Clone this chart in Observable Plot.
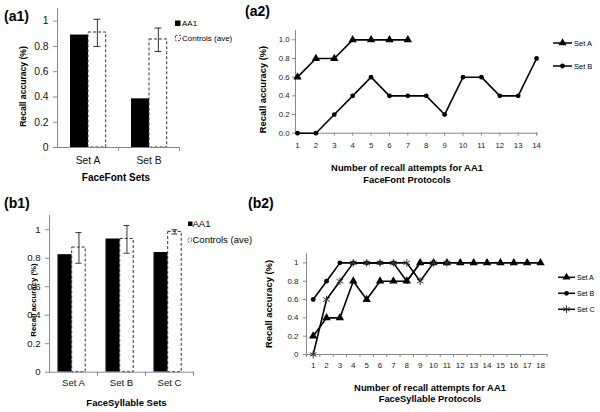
<!DOCTYPE html>
<html><head><meta charset="utf-8">
<script src="https://cdn.jsdelivr.net/npm/d3@7"></script>
<script src="https://cdn.jsdelivr.net/npm/@observablehq/plot@0.6"></script>
<style>
body{margin:0;background:#fff;}
#root{position:relative;width:600px;height:412px;overflow:hidden;background:#fff;}
</style></head><body><div id="root"></div>
<script>
// ---------- data ----------
const a1Sets = ["Set A", "Set B"];
const a1AA1 = [0.89, 0.385];
const a1Ctrl = [0.91, 0.855];
const a1CtrlLo = [0.80, 0.76];
const a1CtrlHi = [1.015, 0.945];

const b1Sets = ["Set A", "Set B", "Set C"];
const b1AA1 = [0.825, 0.935, 0.84];
const b1Ctrl = [0.875, 0.935, 0.985];
const b1CtrlLo = [0.765, 0.835, 0.97];
const b1CtrlHi = [0.98, 1.03, 1.0];

const a2SetA = [0.6, 0.8, 0.8, 1, 1, 1, 1];
const a2SetB = [0, 0, 0.2, 0.4, 0.6, 0.4, 0.4, 0.4, 0.2, 0.6, 0.6, 0.4, 0.4, 0.8];

const b2SetA = [0.2, 0.4, 0.4, 0.8, 0.6, 0.8, 0.8, 0.8, 1, 1, 1, 1, 1, 1, 1, 1, 1, 1];
const b2SetB = [0.6, 0.8, 1, 1, 1, 1, 1, 0.8, 1, 1];
const b2SetC = [0, 0.6, 0.8, 1, 1, 1, 1, 1, 0.8, 1, 1];

const yTicks = [0, 0.2, 0.4, 0.6, 0.8, 1];
const a2XTicks = [1,2,3,4,5,6,7,8,9,10,11,12,13,14];
const b2XTicks = [1,2,3,4,5,6,7,8,9,10,11,12,13,14,15,16,17,18];
const b2XTickMarks = b2XTicks.map(d => d - 0.5).concat([18.5]);

// ---------- helpers ----------
const FONT = '"Liberation Sans", Arial, Helvetica, sans-serif';
const root = document.getElementById("root");
function place(svg, left, top) {
  svg.style.position = "absolute";
  svg.style.left = left + "px";
  svg.style.top = top + "px";
  root.appendChild(svg);
}

function barPanel(o) {
  const rows = o.sets.map((s, i) => ({set: s, aa1: o.aa1[i], ctrl: o.ctrl[i], lo: o.lo[i], hi: o.hi[i]}));
  const bw = (o.width - o.mL - o.mR) / o.sets.length;
  const cc = o.ctrlL + (bw - o.ctrlR - o.ctrlL) / 2;
  return Plot.plot({
    width: o.width, height: o.height,
    marginLeft: o.mL, marginRight: o.mR, marginTop: o.mT, marginBottom: o.mB,
    style: {fontFamily: FONT, fontSize: o.fs + "px", background: "transparent", color: "#111", overflow: "visible"},
    x: {domain: o.sets, padding: 0, label: null},
    y: {domain: [0, 1.1], label: null},
    marks: [
      Plot.barY(rows, {x: "set", y: "aa1", fill: "#000", insetLeft: o.aaL, insetRight: o.aaR}),
      Plot.barY(rows, {x: "set", y: "ctrl", fill: "#fff", stroke: "#333", strokeWidth: 1, strokeDasharray: "3,2", insetLeft: o.ctrlL, insetRight: o.ctrlR}),
      Plot.ruleX(rows, {x: "set", y1: "lo", y2: "hi", dx: cc - bw / 2, stroke: "#333"}),
      Plot.tickY(rows, {x: "set", y: "lo", insetLeft: cc - o.cap, insetRight: bw - cc - o.cap, stroke: "#333"}),
      Plot.tickY(rows, {x: "set", y: "hi", insetLeft: cc - o.cap, insetRight: bw - cc - o.cap, stroke: "#333"}),
      Plot.frame({anchor: "left", stroke: "#888"}),
      Plot.frame({anchor: "bottom", stroke: "#888"}),
      Plot.axisY({ticks: yTicks, tickFormat: d3.format("~g"), tickSize: 4, tickPadding: o.yPad, label: null, stroke: "#888", color: "#111"}),
      Plot.axisX({tickSize: 0, tickPadding: o.xPad, label: null, color: "#111"}),
      Plot.axisX({tickSize: 4, dx: bw / 2, fill: "none", label: null, stroke: "#888"})
    ]
  });
}

function linePanel(o) {
  const marks = [
    Plot.frame({anchor: "left", stroke: "#888"}),
    Plot.frame({anchor: "bottom", stroke: "#888"}),
    Plot.axisY({ticks: yTicks, tickFormat: o.yFmt, tickSize: 3, tickPadding: o.yPad, label: null, stroke: "#888", color: "#222"}),
    Plot.axisX({ticks: o.xLabels, tickFormat: d3.format("d"), tickSize: 0, tickPadding: o.xPad, label: null, color: "#222"}),
    Plot.axisX({ticks: o.xMarks, tickSize: 3, fill: "none", label: null, stroke: "#888"})
  ];
  const all = o.series.map(s => s.values.map((v, i) => ({n: i + 1, v, name: s.name})));
  all.forEach(rows => marks.push(Plot.line(rows, {x: "n", y: "v", stroke: "#000", strokeWidth: 1.6})));
  o.series.forEach((s, k) => marks.push(Plot.dot(all[k], {x: "n", y: "v", symbol: s.symbol, r: s.r, fill: s.fill, stroke: s.stroke, strokeWidth: s.sw})));
  return Plot.plot({
    width: o.width, height: o.height,
    marginLeft: o.mL, marginRight: o.mR, marginTop: o.mT, marginBottom: o.mB,
    style: {fontFamily: FONT, fontSize: o.fs + "px", background: "transparent", color: "#222", overflow: "visible"},
    x: {domain: o.xDomain, label: null},
    y: {domain: [0, 1.1], label: null},
    marks
  });
}

// ---------- panels ----------
place(barPanel({sets: a1Sets, aa1: a1AA1, ctrl: a1Ctrl, lo: a1CtrlLo, hi: a1CtrlHi,
  width: 182, height: 190, mL: 57, mR: 3, mT: 8, mB: 43,
  aaL: 13, aaR: 30, ctrlL: 31, ctrlR: 12.3, cap: 3.5, fs: 10.3, yPad: 5, xPad: 9}), 0, 0);

place(barPanel({sets: b1Sets, aa1: b1AA1, ctrl: b1Ctrl, lo: b1CtrlLo, hi: b1CtrlHi,
  width: 196, height: 200, mL: 49, mR: 3, mT: 15, mB: 28.3,
  aaL: 8.5, aaR: 25.3, ctrlL: 22.7, ctrlR: 11.8, cap: 3, fs: 9.6, yPad: 5, xPad: 7}), 0, 200);

place(linePanel({
  series: [
    {name: "Set A", values: a2SetA, symbol: "triangle", r: 3.1, fill: "#000", stroke: "none", sw: 0},
    {name: "Set B", values: a2SetB, symbol: "circle", r: 2.4, fill: "#000", stroke: "none", sw: 0}
  ],
  width: 300, height: 135, mL: 55, mR: 3, mT: 10, mB: 22.3,
  xDomain: [0.89, 14.05], xLabels: a2XTicks, xMarks: a2XTicks, yFmt: d3.format(".1f"),
  fs: 7.8, yPad: 3, xPad: 9}), 240, 20);

place(linePanel({
  series: [
    {name: "Set A", values: b2SetA, symbol: "triangle", r: 3.1, fill: "#000", stroke: "none", sw: 0},
    {name: "Set B", values: b2SetB, symbol: "circle", r: 2.4, fill: "#000", stroke: "none", sw: 0},
    {name: "Set C", values: b2SetC, symbol: "asterisk", r: 3.6, fill: "none", stroke: "#333", sw: 1}
  ],
  width: 300, height: 130, mL: 56, mR: 3.3, mT: 8.2, mB: 21,
  xDomain: [0.5, 18.5], xLabels: b2XTicks, xMarks: b2XTickMarks, yFmt: d3.format("~g"),
  fs: 8, yPad: 5, xPad: 8}), 250, 245);

// ---------- overlay text & legends ----------
const ov = d3.select(root).append("svg")
  .attr("width", 600).attr("height", 412)
  .style("position", "absolute").style("left", "0px").style("top", "0px")
  .style("font-family", FONT).style("pointer-events", "none");

function txt(str, x, y, {size = 10, weight = "normal", anchor = "start", rotate = 0, fill = "#000"} = {}) {
  const t = ov.append("text").text(str)
    .attr("font-size", size).attr("font-weight", weight)
    .attr("text-anchor", anchor).attr("fill", fill);
  if (rotate) t.attr("transform", `translate(${x},${y}) rotate(${rotate})`).attr("dy", "0.35em");
  else t.attr("x", x).attr("y", y);
}

// titles
txt("(a1)", 4, 21, {size: 14, weight: "bold"});
txt("(a2)", 245, 16, {size: 14, weight: "bold"});
txt("(b1)", 4, 208, {size: 14, weight: "bold"});
txt("(b2)", 248, 208, {size: 14, weight: "bold"});

// axis labels
txt("Recall accuracy (%)", 23, 86.5, {size: 8.6, weight: "bold", anchor: "middle", rotate: -90});
txt("FaceFont Sets", 116, 180.5, {size: 10, weight: "bold", anchor: "middle"});
txt("Recall accuracy (%)", 263, 89.5, {size: 9.3, weight: "bold", anchor: "middle", rotate: -90});
txt("Number of recall attempts for AA1", 407, 170.5, {size: 9.4, weight: "bold", anchor: "middle"});
txt("FaceFont Protocols", 407, 182.5, {size: 9.4, weight: "bold", anchor: "middle"});
txt("Recall accuracy (%)", 33, 300, {size: 7.8, weight: "bold", anchor: "middle", rotate: -90});
txt("FaceSyllable Sets", 126.5, 405.5, {size: 9.5, weight: "bold", anchor: "middle"});
txt("Recall accuracy (%)", 269, 304, {size: 9.4, weight: "bold", anchor: "middle", rotate: -90});
txt("Number of recall attempts for AA1", 430, 390.5, {size: 9.4, weight: "bold", anchor: "middle"});
txt("FaceSyllable Protocols", 430, 401.5, {size: 9.4, weight: "bold", anchor: "middle"});

// bar legends
ov.append("rect").attr("x", 175).attr("y", 20.5).attr("width", 5.5).attr("height", 5.5).attr("fill", "#000");
txt("AA1", 182, 26, {size: 8});
ov.append("rect").attr("x", 175.5).attr("y", 35.5).attr("width", 5).attr("height", 5)
  .attr("fill", "#fff").attr("stroke", "#333").attr("stroke-dasharray", "2,1.5").attr("stroke-width", 0.8);
txt("Controls (ave)", 182, 41, {size: 8});

ov.append("rect").attr("x", 188).attr("y", 221.5).attr("width", 4.5).attr("height", 4.5).attr("fill", "#000");
txt("AA1", 192.5, 227, {size: 9.5});
ov.append("rect").attr("x", 188).attr("y", 238).attr("width", 3.5).attr("height", 4)
  .attr("fill", "#fff").attr("stroke", "#333").attr("stroke-dasharray", "1.5,1").attr("stroke-width", 0.7);
txt("Controls (ave)", 192.5, 243, {size: 9.5});

// line legends
function lineLegend(items, x1, x2, tx, size) {
  items.forEach(it => {
    ov.append("line").attr("x1", x1).attr("x2", x2).attr("y1", it.y).attr("y2", it.y).attr("stroke", "#000").attr("stroke-width", 1.5);
    const sym = d3.symbol().type(it.type).size(it.size);
    ov.append("path").attr("d", sym()).attr("transform", `translate(${(x1 + x2) / 2},${it.y})`)
      .attr("fill", it.fill).attr("stroke", it.stroke).attr("stroke-width", 1);
    txt(it.label, tx, it.y + size * 0.35, {size});
  });
}
lineLegend([
  {label: "Set A", y: 43, type: d3.symbolTriangle, size: 28, fill: "#000", stroke: "none"},
  {label: "Set B", y: 66, type: d3.symbolCircle, size: 18, fill: "#000", stroke: "none"}
], 553, 572, 574, 7.5);
lineLegend([
  {label: "Set A", y: 277.3, type: d3.symbolTriangle, size: 28, fill: "#000", stroke: "none"},
  {label: "Set B", y: 293.3, type: d3.symbolCircle, size: 18, fill: "#000", stroke: "none"},
  {label: "Set C", y: 309.3, type: d3.symbolAsterisk, size: 40, fill: "none", stroke: "#333"}
], 558, 575, 577, 7);
</script></body></html>
